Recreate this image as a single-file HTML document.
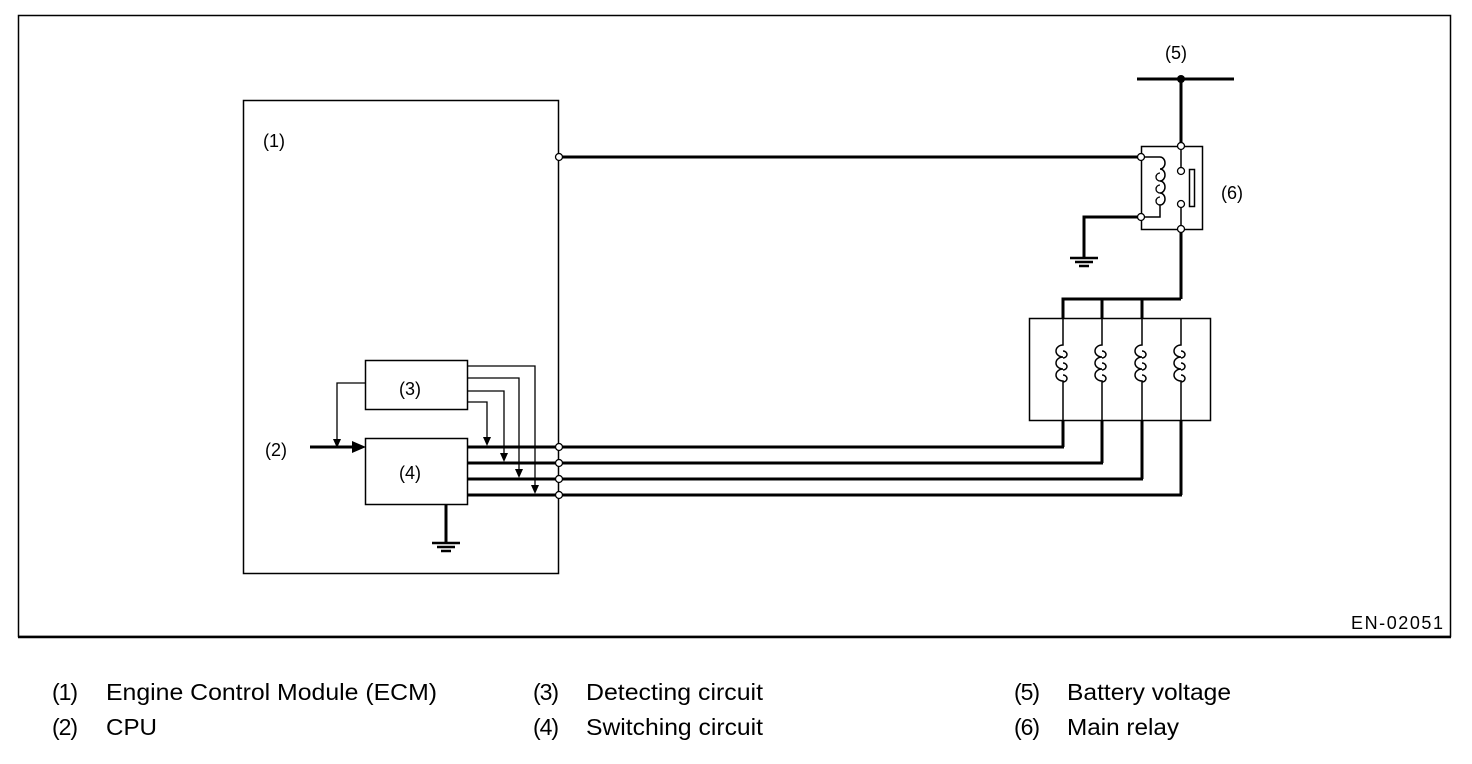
<!DOCTYPE html>
<html><head><meta charset="utf-8"><style>
html,body{margin:0;padding:0;background:#fff;}
svg{display:block;}
text{font-family:"Liberation Sans",sans-serif;fill:#000;}
</style></head><body>
<svg width="1472" height="764" viewBox="0 0 1472 764" xmlns="http://www.w3.org/2000/svg">
<rect x="0" y="0" width="1472" height="764" fill="#fff"/>
<rect x="18.5" y="15.5" width="1432" height="621" fill="none" stroke="#000" stroke-width="1.5"/>
<line x1="18" y1="637" x2="1451" y2="637" stroke="#000" stroke-width="2.5"/>
<text x="1443" y="629" font-size="18" text-anchor="end" textLength="92">EN-02051</text>

<g fill="none" stroke="#000">
<rect x="243.5" y="100.5" width="315" height="473" stroke-width="1.5"/>
<rect x="365.5" y="360.5" width="102" height="49" stroke-width="1.5"/>
<rect x="365.5" y="438.5" width="102" height="66" stroke-width="1.5"/>
<g stroke-width="1.3">
<path d="M467 402 H487 V440"/>
<path d="M467 391 H504 V456"/>
<path d="M467 378 H519 V472"/>
<path d="M467 366 H535 V488"/>
<path d="M365 383 H337 V440"/>
</g>
<g stroke-width="3">
<line x1="467" y1="447" x2="1064" y2="447"/>
<line x1="467" y1="463" x2="1103" y2="463"/>
<line x1="467" y1="479" x2="1143" y2="479"/>
<line x1="467" y1="495" x2="1182" y2="495"/>
<line x1="310" y1="447" x2="352" y2="447"/>
<line x1="446" y1="504" x2="446" y2="543"/>
<line x1="559" y1="157" x2="1141" y2="157"/>
<path d="M1141 217 H1084 V258"/>
<line x1="1137" y1="79" x2="1234" y2="79"/>
<line x1="1181" y1="79" x2="1181" y2="146"/>
<line x1="1181" y1="229" x2="1181" y2="299"/>
<path d="M1063 318 V299 H1181 M1102 299 V318 M1142 299 V318"/>
<path d="M1063 421 V447 M1102 421 V463 M1142 421 V479 M1181 421 V495"/>
</g>
<g stroke-width="2.5">
<line x1="432" y1="543" x2="460" y2="543"/><line x1="437" y1="547" x2="455" y2="547"/><line x1="441" y1="551" x2="451" y2="551"/>
<line x1="1070" y1="258" x2="1098" y2="258"/><line x1="1075" y1="262" x2="1093" y2="262"/><line x1="1079" y1="266" x2="1089" y2="266"/>
</g>
<rect x="1141.5" y="146.5" width="61" height="83" stroke-width="1.5"/>
<path d="M1181 146 V171 M1181 204 V229" stroke-width="1.5"/>
<rect x="1189.5" y="169.5" width="5" height="37" stroke-width="1.5"/>
<path d="M1141 157 H1160 a5 6 0 0 1 0 12 a5 6 0 0 1 0 12 a5 6 0 0 1 0 12 a5 6 0 0 1 0 12 V217 H1141" stroke-width="1.5"/>
<path d="M1160 173 a4 4 0 0 0 0 8 M1160 185 a4 4 0 0 0 0 8 M1160 197 a4 4 0 0 0 0 8" stroke-width="1.3"/>
<rect x="1029.5" y="318.5" width="181" height="102" stroke-width="1.5"/>
<g stroke-width="1.5">
<path d="M1063 318 V345 a7 6 0 0 0 0 12 a7 6 0 0 0 0 12 a7 6 0 0 0 0 12 V421 M1063 351 a4 3.5 0 0 1 0 7 M1063 363 a4 3.5 0 0 1 0 7 M1063 375 a4 3.5 0 0 1 0 7"/>
<path d="M1102 318 V345 a7 6 0 0 0 0 12 a7 6 0 0 0 0 12 a7 6 0 0 0 0 12 V421 M1102 351 a4 3.5 0 0 1 0 7 M1102 363 a4 3.5 0 0 1 0 7 M1102 375 a4 3.5 0 0 1 0 7"/>
<path d="M1142 318 V345 a7 6 0 0 0 0 12 a7 6 0 0 0 0 12 a7 6 0 0 0 0 12 V421 M1142 351 a4 3.5 0 0 1 0 7 M1142 363 a4 3.5 0 0 1 0 7 M1142 375 a4 3.5 0 0 1 0 7"/>
<path d="M1181 318 V345 a7 6 0 0 0 0 12 a7 6 0 0 0 0 12 a7 6 0 0 0 0 12 V421 M1181 351 a4 3.5 0 0 1 0 7 M1181 363 a4 3.5 0 0 1 0 7 M1181 375 a4 3.5 0 0 1 0 7"/>
</g>
</g>
<g fill="#000">
<polygon points="352,441 366,447 352,453"/>
<polygon points="333,439 341,439 337,448"/>
<polygon points="483,437 491,437 487,446"/>
<polygon points="500,453 508,453 504,462"/>
<polygon points="515,469 523,469 519,478"/>
<polygon points="531,485 539,485 535,494"/>
<circle cx="1181" cy="79" r="4"/>
</g>
<g fill="#fff" stroke="#000" stroke-width="1.3">
<circle cx="559" cy="157" r="3.5"/>
<circle cx="559" cy="447" r="3.5"/><circle cx="559" cy="463" r="3.5"/>
<circle cx="559" cy="479" r="3.5"/><circle cx="559" cy="495" r="3.5"/>
<circle cx="1141" cy="157" r="3.5"/><circle cx="1141" cy="217" r="3.5"/>
<circle cx="1181" cy="146" r="3.5"/><circle cx="1181" cy="171" r="3.5"/>
<circle cx="1181" cy="204" r="3.5"/><circle cx="1181" cy="229" r="3.5"/>
</g>
<g font-size="18">
<text x="263" y="147">(1)</text>
<text x="265" y="456">(2)</text>
<text x="399" y="395">(3)</text>
<text x="399" y="479">(4)</text>
<text x="1165" y="59">(5)</text>
<text x="1221" y="199">(6)</text>
</g>
<g font-size="23">
<text x="52" y="700" textLength="26">(1)</text><text x="106" y="700" textLength="331" lengthAdjust="spacingAndGlyphs">Engine Control Module (ECM)</text>
<text x="52" y="735" textLength="26">(2)</text><text x="106" y="735" textLength="51" lengthAdjust="spacingAndGlyphs">CPU</text>
<text x="533" y="700" textLength="26">(3)</text><text x="586" y="700" textLength="177" lengthAdjust="spacingAndGlyphs">Detecting circuit</text>
<text x="533" y="735" textLength="26">(4)</text><text x="586" y="735" textLength="177" lengthAdjust="spacingAndGlyphs">Switching circuit</text>
<text x="1014" y="700" textLength="26">(5)</text><text x="1067" y="700" textLength="164" lengthAdjust="spacingAndGlyphs">Battery voltage</text>
<text x="1014" y="735" textLength="26">(6)</text><text x="1067" y="735" textLength="112" lengthAdjust="spacingAndGlyphs">Main relay</text>
</g>
</svg>
</body></html>
